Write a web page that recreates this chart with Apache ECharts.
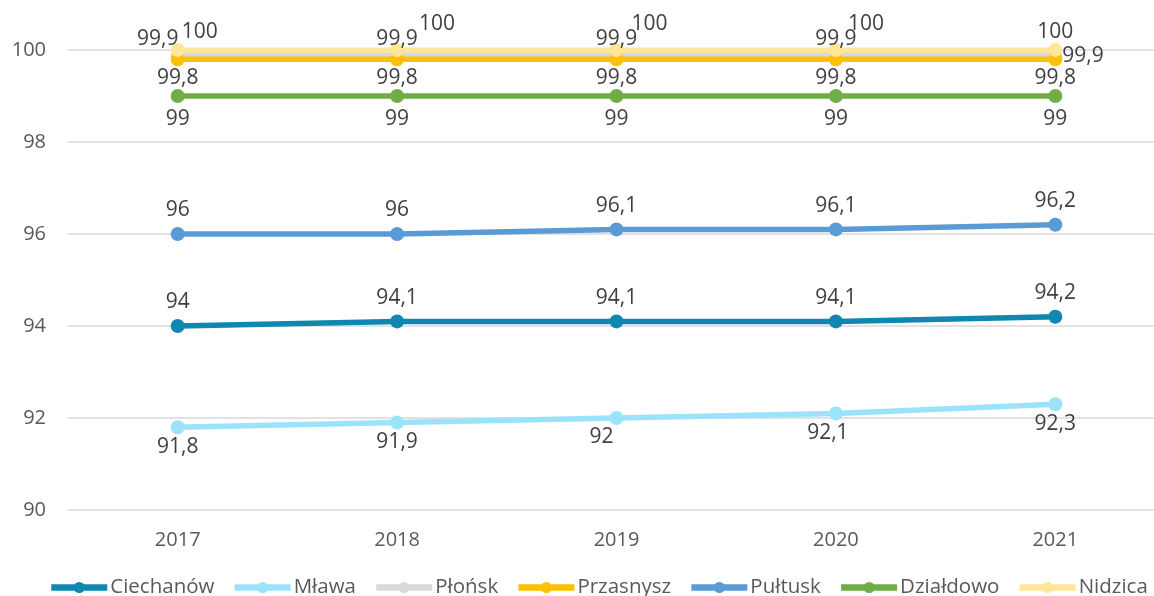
<!DOCTYPE html>
<html>
<head>
<meta charset="utf-8">
<script src="https://cdn.jsdelivr.net/npm/echarts@6/dist/echarts.min.js"></script>
<style>
  html, body { margin: 0; padding: 0; background: #fff; }
  #chart { width: 1154px; height: 596px; }
</style>
</head>
<body>
<div id="chart"></div>
<script>
// lata
const years = ['2017', '2018', '2019', '2020', '2021']

// wartości serii
const ciechanow = [94, 94.1, 94.1, 94.1, 94.2]
const mlawa = [91.8, 91.9, 92, 92.1, 92.3]
const plonsk = [99.9, 99.9, 99.9, 99.9, 99.9]
const przasnysz = [99.8, 99.8, 99.8, 99.8, 99.8]
const pultusk = [96, 96, 96.1, 96.1, 96.2]
const dzialdowo = [99, 99, 99, 99, 99]
const nidzica = [100, 100, 100, 100, 100]

const fmt = v => String(v).replace('.', ',')

// układ etykiet dla poszczególnych punktów
const plonskLabels = [
  { position: 'top', offset: [-20, 8] },
  { position: 'top', offset: [0, 8] },
  { position: 'top', offset: [0, 8] },
  { position: 'top', offset: [0, 8] },
  { position: 'right', offset: [-6, 1] }
]
const nidzicaLabels = [
  { position: 'top', offset: [22, 6] },
  { position: 'top', offset: [40, -2] },
  { position: 'top', offset: [33, -2] },
  { position: 'top', offset: [30, -2] },
  { position: 'top', offset: [0, 6] }
]
const mlawaLabels = [
  { position: 'bottom', offset: [0, -4] },
  { position: 'bottom', offset: [0, -4] },
  { position: 'bottom', offset: [-15, -4] },
  { position: 'bottom', offset: [-8, -4] },
  { position: 'bottom', offset: [0, -4] }
]
const przasnyszLabels = years.map(() => ({ position: 'bottom', offset: [0, -5] }))

const labelStyle = {
  show: true,
  color: '#404040',
  fontSize: 21,
  fontFamily: 'Open Sans',
  formatter: p => fmt(p.value)
}

const makeSeries = (name, values, color, position, perPoint) => ({
  name,
  type: 'line',
  data: values.map((v, i) => perPoint ? { value: v, label: perPoint[i] } : v),
  symbol: 'circle',
  symbolSize: 14,
  lineStyle: { width: 5.5, color },
  itemStyle: { color },
  label: Object.assign({}, labelStyle, { position, distance: 6 }),
  emphasis: { disabled: true },
  animation: false
})

const chart = echarts.init(document.getElementById('chart'))
chart.setOption({
  animation: false,
  grid: { left: 68, right: -11, top: 50, bottom: 86, containLabel: false, outerBoundsMode: 'none' },
  xAxis: {
    type: 'category',
    data: years,
    boundaryGap: true,
    axisLine: { show: false },
    axisTick: { show: false },
    axisLabel: { color: '#595959', fontSize: 20, fontFamily: 'Open Sans', margin: 20 }
  },
  yAxis: {
    type: 'value',
    min: 90,
    max: 100,
    interval: 2,
    axisLine: { show: false },
    axisTick: { show: false },
    axisLabel: { color: '#595959', fontSize: 20, fontFamily: 'Open Sans', margin: 22 },
    splitLine: { lineStyle: { color: '#d9d9d9', width: 1.5 } }
  },
  legend: {
    left: 48,
    bottom: -2,
    width: 1150,
    padding: 0,
    itemWidth: 56,
    itemHeight: 14,
    itemGap: 17,
    lineStyle: { width: 6.5 },
    textStyle: { color: '#595959', fontSize: 20.5, fontFamily: 'Open Sans', padding: [0, 0, 0, -2] }
  },
  series: [
    makeSeries('Ciechanów', ciechanow, '#0f87b1', 'top'),
    makeSeries('Mława', mlawa, '#9be3fb', 'bottom', mlawaLabels),
    makeSeries('Płońsk', plonsk, '#d9d9d9', 'top', plonskLabels),
    makeSeries('Przasnysz', przasnysz, '#ffc000', 'bottom', przasnyszLabels),
    makeSeries('Pułtusk', pultusk, '#5b9bd5', 'top'),
    makeSeries('Działdowo', dzialdowo, '#70ad47', 'bottom'),
    makeSeries('Nidzica', nidzica, '#ffe699', 'top', nidzicaLabels)
  ]
})
</script>
</body>
</html>
